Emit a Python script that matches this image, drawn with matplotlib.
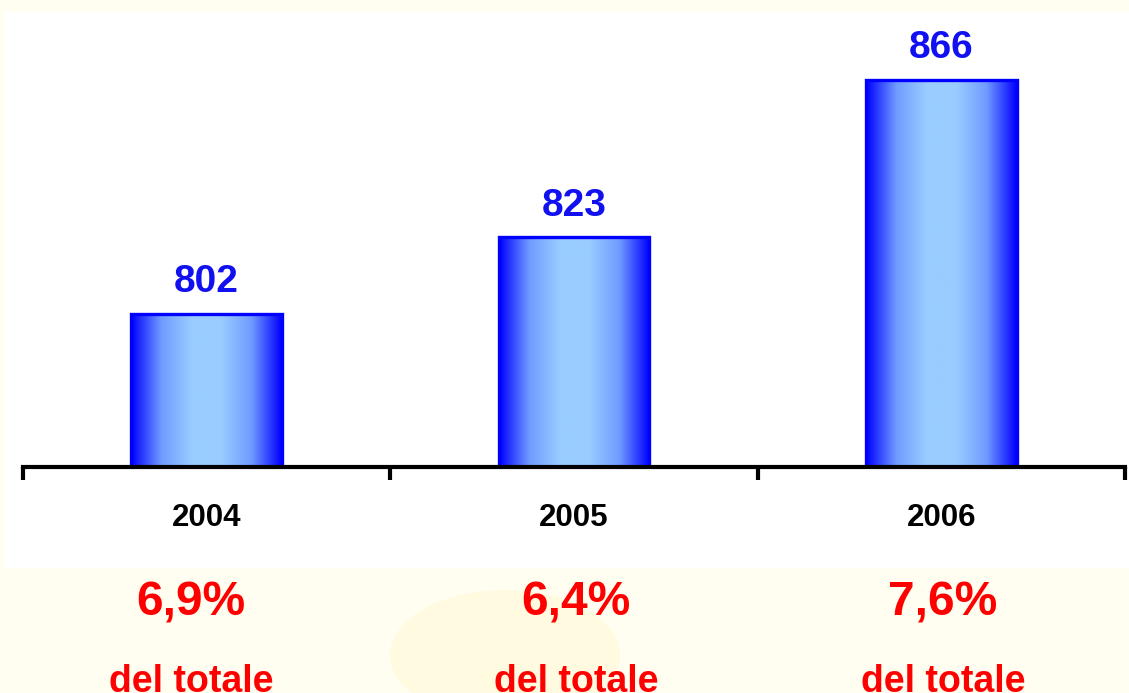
import numpy as np
import matplotlib
matplotlib.use('Agg')
import matplotlib.pyplot as plt
from matplotlib.colors import LinearSegmentedColormap
from matplotlib.patches import Rectangle, Ellipse

years = ['2004', '2005', '2006']
values = [802, 823, 866]
shares = ['6,9%', '6,4%', '7,6%']
share_note = 'del totale'

plt.rcParams['font.family'] = ['Liberation Sans', 'DejaVu Sans']

W, H = 1129, 693
fig = plt.figure(figsize=(W / 100, H / 100), dpi=100)
fig.patch.set_facecolor('#FFFEF0')

# white panel behind the chart
fig.patches.append(Rectangle((4 / W, 1 - 568 / H), 1 - 4 / W, (568 - 12) / H,
                             transform=fig.transFigure, facecolor='white',
                             edgecolor='none', zorder=-2))
# faint map blob in the background
fig.patches.append(Ellipse((505 / W, 1 - 655 / H), 230 / W, 130 / H,
                           transform=fig.transFigure, facecolor='#FFFAE0',
                           edgecolor='none', zorder=-2))

ax = fig.add_axes([23 / W, 1 - 467 / H, (1125 - 23) / W, (467 - 12) / H])
ax.set_zorder(2)
ax.set_facecolor('none')

cmap = LinearSegmentedColormap.from_list('bar', ['#0000FF', '#6F9BFF', '#99CCFF', '#99CCFF', '#6F9BFF', '#0000FF'])
grad = np.linspace(0, 1, 256).reshape(1, -1)
bw = 0.41
x = np.arange(len(years))
for xi, v in zip(x, values):
    ax.imshow(grad, cmap=cmap, aspect='auto', extent=(xi - bw / 2, xi + bw / 2, 760, v),
              zorder=2, interpolation='bilinear')
    ax.add_patch(Rectangle((xi - bw / 2, 760), bw, v - 760, facecolor='none',
                           edgecolor='#0000FF', linewidth=2.4, zorder=3))
    ax.text(xi, v + 3.6, str(v), ha='center', va='bottom', fontsize=28,
            fontweight='bold', color='#1010F0')
ax.set_xlim(-0.5, 2.5)
ax.set_ylim(760, 884.5)

for s in ['top', 'right', 'left']:
    ax.spines[s].set_visible(False)
ax.spines['bottom'].set_linewidth(3)
ax.spines['bottom'].set_zorder(4)
ax.set_yticks([])
ax.set_xticks([-0.5, 0.5, 1.5, 2.5])
ax.set_xticklabels([])
ax.tick_params(axis='x', length=9, width=3, direction='out')

for xi, yr in zip(x, years):
    ax.text(xi, -51 / 455, yr, transform=ax.get_xaxis_transform(), ha='center',
            va='center', fontsize=22.5, fontweight='bold', color='black')

share_x = [191, 576, 943]
for sx, sh in zip(share_x, shares):
    fig.text(sx / W, 1 - 603 / H, sh, ha='center', va='center', fontsize=34.5,
             fontweight='bold', color='#FF0000')
    fig.text(sx / W, 1 - 692 / H, share_note, ha='center', va='baseline', fontsize=27,
             fontweight='bold', color='#FF0000')

fig.savefig('out.png', dpi=100, facecolor=fig.get_facecolor())
